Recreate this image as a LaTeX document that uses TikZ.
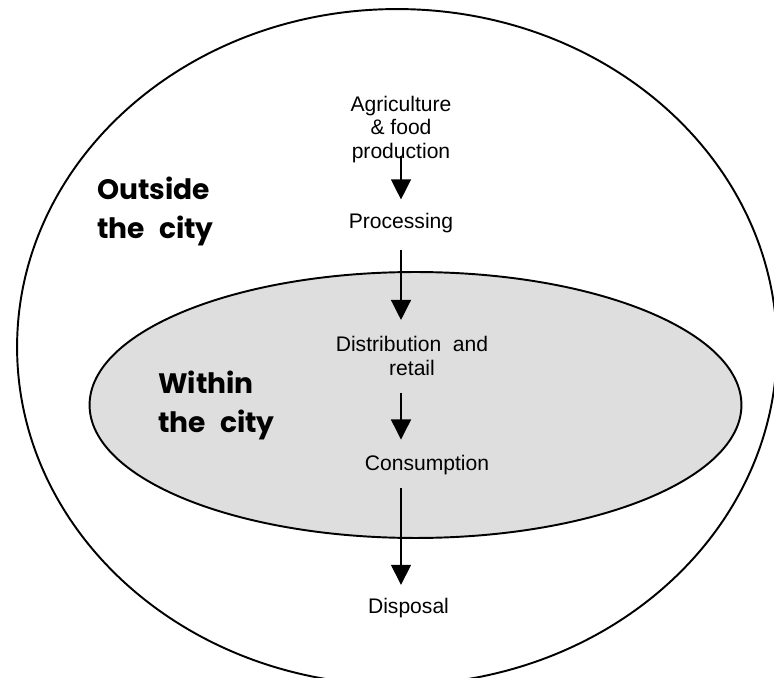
\documentclass[tikz,border=0pt]{standalone}
\usepackage{fontspec}
\setmainfont{Liberation Sans}
\newfontfamily\comicfont{Poppins}
\newcommand\areafont{\comicfont\bfseries\fontsize{16}{22}\selectfont\spaceskip 0.5em plus 0.1em\relax}
\usetikzlibrary{arrows.meta}
\definecolor{citygray}{gray}{0.87}
\tikzset{
  stage/.style={font=\fontsize{12}{13.6}\selectfont, align=center, inner sep=0pt},
  area/.style={font=\areafont, align=left, inner sep=0pt, anchor=north west},
  flow/.style={line width=0.75pt, -{Triangle[length=11.4pt,width=11.4pt]}},
}

\begin{document}
\begin{tikzpicture}[x=0.02cm, y=-0.02cm]
	%%%%% START %%%%%
	\useasboundingbox (0,0) rectangle (774,678);
	
	% the whole food chain, outside the city
	\draw[line width=1.1pt] (397,347) ellipse [x radius=7.6cm, y radius=6.76cm];
	% within the city
	\draw[line width=1.1pt, fill=citygray] (415.5,405) ellipse [x radius=6.52cm, y radius=2.66cm];
	
	\node[area] (outside) at (97,177) {Outside\\the city};
	\node[area] (within) at (158,371) {Within\\the city};
	
	\node[stage] (agri) at (401,129.5) {Agriculture\\\& food\\production};
	\node[stage] (proc) at (401,222.6) {Processing};
	\node[stage] (dist) at (412,356) {Distribution\ \ and\\retail};
	\node[stage] (cons) at (427,464.7) {Consumption};
	\node[stage] (disp) at (408.5,608.5) {Disposal};
	
	\draw[flow, shorten <=-0.15cm, shorten >=0.26cm] (agri.south -| proc) -- (proc.north);
	\draw[flow, shorten <=0.35cm, shorten >=0.32cm] (proc.south) -- (dist.north -| proc);
	\draw[flow, shorten <=0.33cm, shorten >=0.3cm] (dist.south -| proc) -- (cons.north -| proc);
	\draw[flow, shorten <=0.27cm, shorten >=0.27cm] (cons.south -| proc) -- (disp.north -| proc);
	
	%%%%% END %%%%%
\end{tikzpicture}
\end{document}
